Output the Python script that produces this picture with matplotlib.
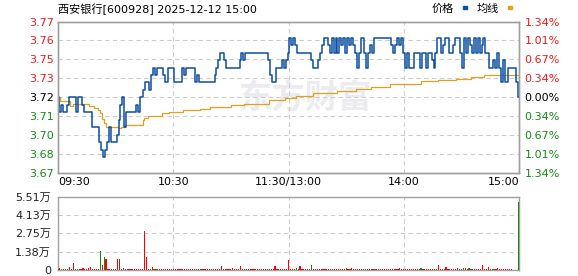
import matplotlib.pyplot as plt
from matplotlib.patches import Rectangle

plt.rcParams['font.family'] = ['DejaVu Sans', 'Noto Sans CJK SC']

# ---- data ----
title = "西安银行[600928] 2025-12-12 15:00"
prev_close = 3.72
pct_span = 1.34   # percent shown at top / bottom of the price panel

price_labels = ["3.67", "3.68", "3.70", "3.71", "3.72", "3.73", "3.75", "3.76", "3.77"]
pct_labels = ["1.34%", "1.01%", "0.67%", "0.34%", "0.00%", "0.34%", "0.67%", "1.01%", "1.34%"]
time_labels = ["09:30", "10:30", "11:30/13:00", "14:00", "15:00"]
time_minutes = [0, 60, 120, 180, 240]
vol_labels = ["0", "1.38万", "2.75万", "4.13万", "5.51万"]
vol_max = 5.51

# last price per minute (09:30 .. 15:00, lunch break removed)
price = [
    3.7200, 3.7102, 3.7151, 3.7102, 3.7102, 3.7151, 3.7200, 3.7200, 3.7200, 3.7200,
    3.7102, 3.7200, 3.7200, 3.7151, 3.7102, 3.7102, 3.7102, 3.7102, 3.7004, 3.7004,
    3.7004, 3.7004, 3.6906, 3.6857, 3.6808, 3.6857, 3.6906, 3.7004, 3.6906, 3.6906,
    3.6906, 3.6955, 3.7053, 3.7151, 3.7200, 3.7004, 3.7102, 3.7102, 3.7102, 3.7102,
    3.7102, 3.7151, 3.7102, 3.7200, 3.7200, 3.7249, 3.7298, 3.7298, 3.7249, 3.7347,
    3.7396, 3.7347, 3.7396, 3.7396, 3.7396, 3.7347, 3.7298, 3.7298, 3.7396, 3.7396,
    3.7396, 3.7298, 3.7298, 3.7298, 3.7298, 3.7396, 3.7347, 3.7396, 3.7396, 3.7396,
    3.7396, 3.7396, 3.7298, 3.7347, 3.7298, 3.7298, 3.7298, 3.7298, 3.7298, 3.7298,
    3.7298, 3.7298, 3.7347, 3.7396, 3.7445, 3.7494, 3.7494, 3.7445, 3.7396, 3.7396,
    3.7396, 3.7396, 3.7396, 3.7396, 3.7396, 3.7445, 3.7494, 3.7445, 3.7494, 3.7494,
    3.7494, 3.7494, 3.7494, 3.7494, 3.7494, 3.7494, 3.7494, 3.7494, 3.7494, 3.7494,
    3.7445, 3.7347, 3.7298, 3.7298, 3.7396, 3.7396, 3.7396, 3.7445, 3.7396, 3.7445,
    3.7494, 3.7592, 3.7543, 3.7592, 3.7543, 3.7494, 3.7494, 3.7494, 3.7494, 3.7494,
    3.7494, 3.7494, 3.7445, 3.7396, 3.7396, 3.7396, 3.7445, 3.7494, 3.7543, 3.7592,
    3.7592, 3.7543, 3.7494, 3.7592, 3.7494, 3.7592, 3.7494, 3.7592, 3.7543, 3.7592,
    3.7494, 3.7592, 3.7543, 3.7592, 3.7543, 3.7494, 3.7396, 3.7494, 3.7592, 3.7592,
    3.7494, 3.7396, 3.7494, 3.7543, 3.7494, 3.7592, 3.7592, 3.7592, 3.7592, 3.7592,
    3.7592, 3.7592, 3.7592, 3.7592, 3.7543, 3.7494, 3.7543, 3.7592, 3.7543, 3.7592,
    3.7494, 3.7396, 3.7494, 3.7396, 3.7396, 3.7396, 3.7494, 3.7494, 3.7494, 3.7396,
    3.7494, 3.7494, 3.7396, 3.7494, 3.7494, 3.7445, 3.7396, 3.7494, 3.7592, 3.7592,
    3.7494, 3.7543, 3.7592, 3.7592, 3.7494, 3.7494, 3.7543, 3.7592, 3.7592, 3.7592,
    3.7494, 3.7396, 3.7592, 3.7494, 3.7592, 3.7543, 3.7494, 3.7592, 3.7494, 3.7592,
    3.7494, 3.7543, 3.7592, 3.7494, 3.7494, 3.7396, 3.7396, 3.7445, 3.7396, 3.7494,
    3.7396, 3.7298, 3.7445, 3.7298, 3.7298, 3.7396, 3.7396, 3.7396, 3.7396, 3.7298,
    3.7200,
]

# average price line, sampled where it changes
avg_minutes = [0, 1, 6, 8, 16, 19, 21, 22, 23, 24, 25, 31, 33, 35, 44, 45, 47, 54,
               58, 65, 74, 79, 90, 97, 110, 118, 124, 133, 145, 155, 163, 173, 189,
               198, 207, 215, 222, 239, 240]
avg_price = [3.7200, 3.7174, 3.7141, 3.7158, 3.7141, 3.7130, 3.7115, 3.7097, 3.7060,
             3.7030, 3.7004, 3.6999, 3.7005, 3.7020, 3.7050, 3.7064, 3.7079, 3.7097,
             3.7102, 3.7115, 3.7123, 3.7136, 3.7148, 3.7158, 3.7180, 3.7195, 3.7210,
             3.7228, 3.7243, 3.7256, 3.7267, 3.7287, 3.7305, 3.7311, 3.7322, 3.7331,
             3.7344, 3.7344, 3.7331]

# volume per minute (万)
volume = [
    0.07, 0.13, 0.07, 0.07, 0.07, 0.07, 0.20, 0.07, 0.51, 0.07,
    0.07, 0.07, 0.07, 0.13, 0.07, 0.07, 0.13, 0.20, 0.07, 0.07,
    0.07, 0.07, 1.43, 0.36, 0.97, 0.82, 0.07, 0.07, 0.07, 0.07,
    0.07, 0.82, 0.82, 0.07, 0.13, 0.07, 0.07, 0.07, 0.07, 0.07,
    0.07, 0.07, 0.07, 0.07, 0.07, 2.96, 0.97, 0.07, 0.07, 0.20,
    0.07, 0.07, 0.07, 0.07, 0.07, 0.07, 0.07, 0.07, 0.07, 0.07,
    0.07, 0.07, 0.07, 0.07, 0.07, 0.07, 0.07, 0.07, 0.07, 0.07,
    0.07, 0.07, 0.07, 0.07, 0.07, 0.07, 0.07, 0.07, 0.07, 0.07,
    0.07, 0.07, 0.07, 0.07, 0.07, 0.28, 0.07, 0.07, 0.07, 0.07,
    0.07, 0.13, 0.07, 0.07, 0.07, 0.28, 0.07, 0.07, 0.07, 0.07,
    0.07, 0.07, 0.07, 0.07, 0.07, 0.07, 0.07, 0.07, 0.07, 0.07,
    0.07, 0.07, 0.07, 0.28, 0.07, 0.07, 0.07, 0.07, 0.07, 0.07,
    0.77, 0.07, 0.07, 0.07, 0.13, 0.07, 0.28, 0.07, 0.07, 0.07,
    0.07, 0.07, 0.36, 0.07, 0.07, 0.07, 0.07, 0.07, 0.07, 0.07,
    0.07, 0.07, 0.07, 0.07, 0.07, 0.07, 0.07, 0.07, 0.07, 0.07,
    0.13, 0.07, 0.07, 0.13, 0.07, 0.07, 0.07, 0.07, 0.07, 0.07,
    0.07, 0.07, 0.07, 0.07, 0.07, 0.07, 0.07, 0.07, 0.07, 0.07,
    0.07, 0.07, 0.07, 0.07, 0.07, 0.07, 0.07, 0.07, 0.13, 0.07,
    0.07, 0.07, 0.07, 0.07, 0.07, 0.07, 0.07, 0.07, 0.07, 0.13,
    0.07, 0.07, 0.07, 0.07, 0.07, 0.07, 0.07, 0.07, 0.36, 0.07,
    0.07, 0.07, 0.20, 0.07, 0.07, 0.07, 0.07, 0.07, 0.13, 0.07,
    0.07, 0.13, 0.13, 0.07, 0.13, 0.07, 0.07, 0.07, 0.07, 0.07,
    0.07, 0.36, 0.07, 0.07, 0.20, 0.07, 0.07, 0.07, 0.07, 0.13,
    0.07, 0.07, 0.07, 0.07, 0.07, 0.07, 0.07, 0.00, 0.00, 0.00,
    5.08,
]
# minutes whose volume bar is green (price fell)
down_minutes = [2, 3, 4, 9, 10, 22, 24, 30, 34, 50, 52, 55, 60, 65, 72, 74, 87, 110,
                124, 132, 142, 150, 160, 161, 165, 189, 200, 211, 214, 225, 227, 240]

# ---- style ----
BLUE = '#0b4ea2'
GOLD = '#e0a21c'
RED = '#f01818'
GREEN = '#138a13'
GRID = '#cccccc'
FRAME = '#a0a0a0'

W, H = 578, 276
fig = plt.figure(figsize=(W / 100, H / 100), dpi=100)

ax = fig.add_axes([58 / W, 1 - 173.3 / H, 461 / W, 151.8 / H])
axv = fig.add_axes([58 / W, 1 - 270 / H, 461 / W, 73.3 / H])

minutes = list(range(len(price)))

# ---- price panel ----
half = prev_close * pct_span / 100
ylo, yhi = prev_close - half, prev_close + half
ax.set_xlim(0, 240)
ax.set_ylim(ylo, yhi)
yt = [ylo + i * (yhi - ylo) / 8 for i in range(9)]

for t in time_minutes[1:-1]:
    ax.axvline(t, color=GRID, lw=0.8, ls=(0, (4, 3)), zorder=1)
for y in yt[1:-1]:
    ax.axhline(y, color=GRID, lw=0.8, ls=(0, (4, 3)), zorder=1)

ax.text(0.39, 0.49, "东方财富", transform=ax.transAxes, ha='left', va='center',
        fontsize=24, fontweight='bold', color='#ececf0', family=['Noto Sans CJK SC'],
        zorder=0)

ax.plot(avg_minutes, avg_price, color=GOLD, lw=0.9, drawstyle='steps-post', zorder=3)
ax.plot(minutes, price, color=BLUE, lw=1.1, drawstyle='steps-mid', zorder=4)

ax.set_yticks(yt)
ax.set_yticklabels(price_labels)
ax.tick_params(axis='y', length=0, pad=3, labelsize=8)
ax.set_xticks([])
for lab, y in zip(ax.get_yticklabels(), yt):
    if abs(y - prev_close) < 1e-6:
        lab.set_color('black')
    elif y > prev_close:
        lab.set_color(RED)
    else:
        lab.set_color(GREEN)

ax2 = ax.twinx()
ax2.set_ylim(ylo, yhi)
ax2.set_yticks(yt)
ax2.set_yticklabels(pct_labels)
ax2.tick_params(axis='y', length=0, pad=4, labelsize=8)
for lab, y in zip(ax2.get_yticklabels(), yt):
    if abs(y - prev_close) < 1e-6:
        lab.set_color('black')
    elif y > prev_close:
        lab.set_color(RED)
    else:
        lab.set_color(GREEN)

for a in (ax, ax2):
    for s in a.spines.values():
        s.set_color(FRAME)
        s.set_linewidth(1)

# time labels under the price panel
for t, lab in zip(time_minutes, time_labels):
    ha = 'left' if t == 0 else ('right' if t == 240 else 'center')
    ax.text(t, -0.06, lab, transform=ax.get_xaxis_transform(), ha=ha, va='center',
            fontsize=8, color='black')

# ---- volume panel ----
axv.set_xlim(0, 240)
axv.set_ylim(0, vol_max)
vt = [vol_max * i / 4 for i in range(5)]
for t in time_minutes[1:-1]:
    axv.axvline(t, color=GRID, lw=0.8, ls=(0, (4, 3)), zorder=1)
for y in vt[1:-1]:
    axv.axhline(y, color=GRID, lw=0.8, ls=(0, (4, 3)), zorder=1)

bar_colors = [GREEN if m in down_minutes else '#ff0000' for m in minutes]
axv.bar(minutes, volume, width=0.6, color=bar_colors, linewidth=0, zorder=3)
axv.set_yticks(vt)
axv.set_yticklabels(vol_labels)
axv.tick_params(axis='y', length=0, pad=5, labelsize=8, labelcolor='#222222')
axv.set_xticks([])
for s in axv.spines.values():
    s.set_color(FRAME)
    s.set_linewidth(1)

# ---- title and legend ----
fig.text(58 / W, 1 - 9 / H, title, ha='left', va='center', fontsize=8, color='black')
fig.text(432 / W, 1 - 9 / H, "价格", ha='left', va='center', fontsize=8, color='black')
fig.text(477 / W, 1 - 9 / H, "均线", ha='left', va='center', fontsize=8, color='black')
fig.patches.append(Rectangle((462.5 / W, 1 - 8.5 / H), 4.5 / W, 2.2 / H,
                             transform=fig.transFigure, color=BLUE, figure=fig))
fig.patches.append(Rectangle((507.5 / W, 1 - 8.5 / H), 4.5 / W, 2.2 / H,
                             transform=fig.transFigure, color=GOLD, figure=fig))

fig.savefig('out.png', dpi=100)
